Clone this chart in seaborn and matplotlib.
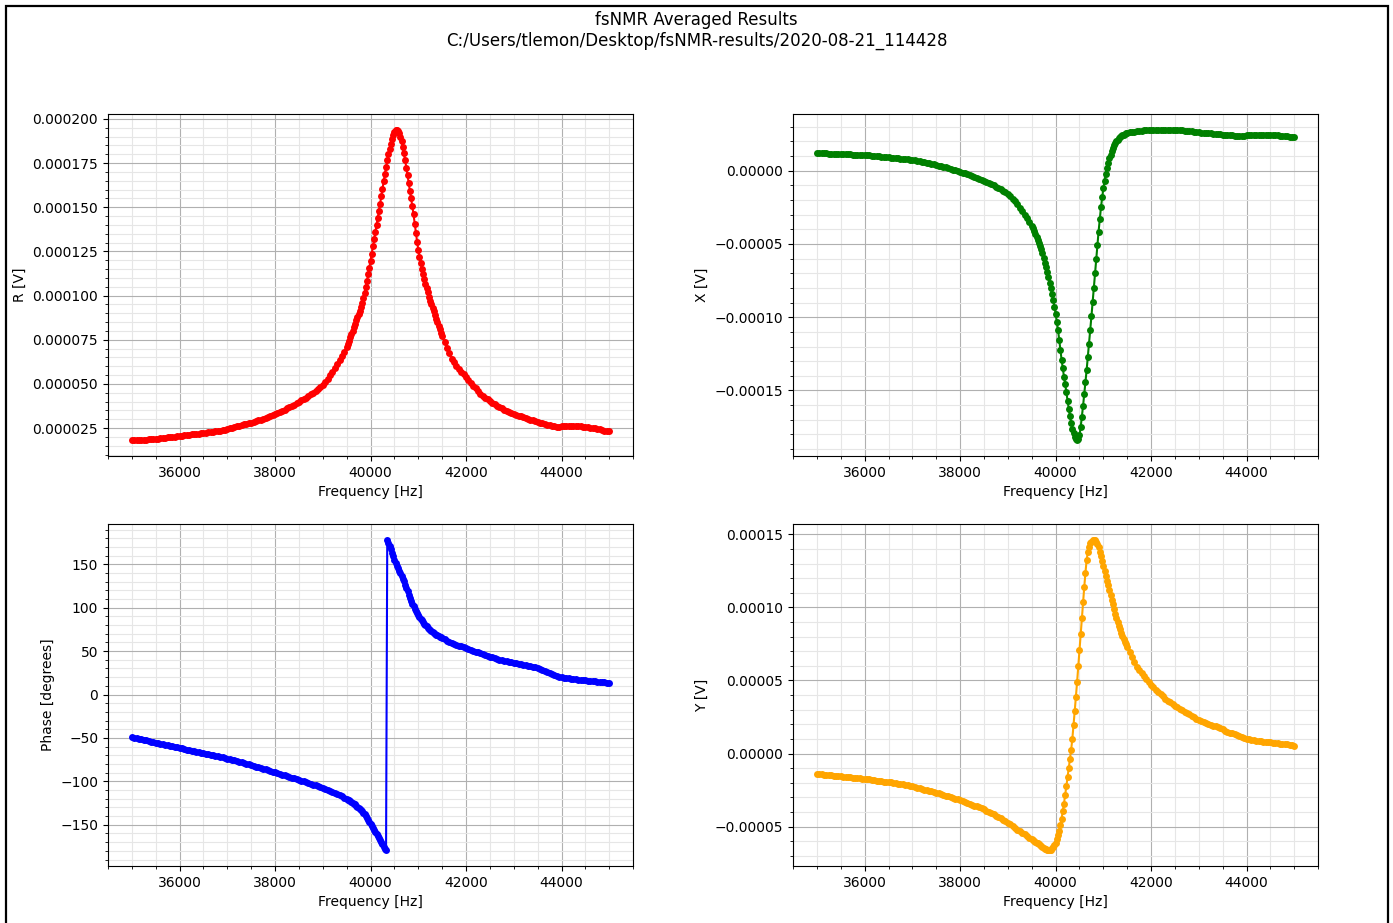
# fsNMR averaged results - R, X, phase and Y against frequency
import numpy as np
import matplotlib
matplotlib.use('Agg')
import matplotlib.pyplot as plt
import seaborn as sns
from matplotlib.patches import Rectangle

titel = 'fsNMR Averaged Results\nC:/Users/tlemon/Desktop/fsNMR-results/2020-08-21_114428'

# sweep frequencies [Hz]: 50 Hz steps, 25 Hz steps between 39500 and 41500
freq = [35000, 35050, 35100, 35150, 35200, 35250, 35300, 35350, 35400, 35450,
        35500, 35550, 35600, 35650, 35700, 35750, 35800, 35850, 35900, 35950,
        36000, 36050, 36100, 36150, 36200, 36250, 36300, 36350, 36400, 36450,
        36500, 36550, 36600, 36650, 36700, 36750, 36800, 36850, 36900, 36950,
        37000, 37050, 37100, 37150, 37200, 37250, 37300, 37350, 37400, 37450,
        37500, 37550, 37600, 37650, 37700, 37750, 37800, 37850, 37900, 37950,
        38000, 38050, 38100, 38150, 38200, 38250, 38300, 38350, 38400, 38450,
        38500, 38550, 38600, 38650, 38700, 38750, 38800, 38850, 38900, 38950,
        39000, 39050, 39100, 39150, 39200, 39250, 39300, 39350, 39400, 39450,
        39500, 39525, 39550, 39575, 39600, 39625, 39650, 39675, 39700, 39725,
        39750, 39775, 39800, 39825, 39850, 39875, 39900, 39925, 39950, 39975,
        40000, 40025, 40050, 40075, 40100, 40125, 40150, 40175, 40200, 40225,
        40250, 40275, 40300, 40325, 40350, 40375, 40400, 40425, 40450, 40475,
        40500, 40525, 40550, 40575, 40600, 40625, 40650, 40675, 40700, 40725,
        40750, 40775, 40800, 40825, 40850, 40875, 40900, 40925, 40950, 40975,
        41000, 41025, 41050, 41075, 41100, 41125, 41150, 41175, 41200, 41225,
        41250, 41275, 41300, 41325, 41350, 41375, 41400, 41425, 41450, 41475,
        41500, 41550, 41600, 41650, 41700, 41750, 41800, 41850, 41900, 41950,
        42000, 42050, 42100, 42150, 42200, 42250, 42300, 42350, 42400, 42450,
        42500, 42550, 42600, 42650, 42700, 42750, 42800, 42850, 42900, 42950,
        43000, 43050, 43100, 43150, 43200, 43250, 43300, 43350, 43400, 43450,
        43500, 43550, 43600, 43650, 43700, 43750, 43800, 43850, 43900, 43950,
        44000, 44050, 44100, 44150, 44200, 44250, 44300, 44350, 44400, 44450,
        44500, 44550, 44600, 44650, 44700, 44750, 44800, 44850, 44900, 44950,
        45000]

# amplitude R [uV]
r_uv = [18.0, 18.1, 18.2, 18.25, 18.3, 18.4, 18.5, 18.6, 18.7, 18.8,
        18.9, 19.05, 19.2, 19.35, 19.5, 19.7, 19.9, 20.05, 20.2, 20.4,
        20.6, 20.75, 20.9, 21.05, 21.2, 21.4, 21.6, 21.75, 21.9, 22.1,
        22.3, 22.45, 22.6, 22.8, 23.0, 23.2, 23.4, 23.6, 23.8, 24.1,
        24.4, 24.8, 25.2, 25.6, 26.0, 26.4, 26.8, 27.1, 27.4, 27.7,
        28.0, 28.45, 28.9, 29.35, 29.8, 30.3, 30.8, 31.35, 31.9, 32.5,
        33.1, 33.7, 34.3, 34.9, 35.5, 36.15, 36.8, 37.5, 38.2, 39.0,
        39.8, 40.6, 41.4, 42.25, 43.1, 44.05, 45.0, 46.0, 47.0, 48.1,
        49.2, 51.1, 53.0, 55.0, 57.0, 59.0, 61.0, 63.3, 65.6, 68.2,
        70.9, 72.7, 74.5, 76.3, 78.2, 80.1, 82.0, 83.9, 85.9, 87.7,
        89.5, 91.4, 93.4, 96.0, 98.8, 101.7, 104.7, 108.2, 112.0, 115.8,
        119.7, 123.7, 127.8, 131.8, 135.9, 139.9, 143.9, 147.9, 151.9, 156.1,
        160.4, 164.7, 168.9, 172.8, 176.5, 179.9, 183.0, 185.9, 188.5, 190.7,
        192.4, 193.5, 194.0, 193.4, 192.0, 190.0, 187.5, 184.2, 180.5, 176.6,
        172.5, 168.1, 163.5, 159.2, 155.0, 150.6, 146.0, 140.8, 135.5, 130.6,
        126.0, 122.1, 118.5, 115.1, 112.0, 109.2, 106.5, 104.1, 101.8, 99.4,
        97.0, 95.0, 93.0, 91.0, 89.0, 87.0, 85.0, 82.9, 80.8, 78.9,
        77.0, 73.7, 70.5, 67.3, 64.2, 62.2, 60.3, 58.6, 57.0, 55.4,
        53.9, 52.2, 50.5, 48.9, 47.4, 45.9, 44.5, 43.3, 42.2, 41.2,
        40.2, 39.3, 38.4, 37.6, 36.8, 36.1, 35.4, 34.8, 34.2, 33.65,
        33.1, 32.6, 32.1, 31.6, 31.1, 30.65, 30.2, 29.75, 29.3, 28.85,
        28.4, 28.05, 27.7, 27.3, 26.9, 26.5, 26.1, 25.9, 25.7, 25.8,
        25.9, 26.0, 26.1, 26.15, 26.2, 26.15, 26.1, 26.0, 25.9, 25.75,
        25.6, 25.4, 25.2, 25.0, 24.8, 24.5, 24.2, 23.9, 23.6, 23.35,
        23.1]

# in-phase X [uV]
x_uv = [12.0, 11.95, 11.9, 11.85, 11.8, 11.7, 11.6, 11.55, 11.5, 11.45,
        11.4, 11.3, 11.2, 11.15, 11.1, 11.05, 11.0, 10.95, 10.9, 10.8,
        10.7, 10.55, 10.4, 10.25, 10.1, 9.95, 9.8, 9.6, 9.4, 9.25,
        9.1, 8.95, 8.8, 8.6, 8.4, 8.25, 8.1, 7.9, 7.7, 7.5,
        7.3, 7.0, 6.7, 6.35, 6.0, 5.65, 5.3, 4.95, 4.6, 4.25,
        3.9, 3.5, 3.1, 2.65, 2.2, 1.7, 1.2, 0.75, 0.3, -0.2,
        -0.7, -1.25, -1.8, -2.35, -2.9, -3.5, -4.1, -4.75, -5.4, -6.1,
        -6.8, -7.55, -8.3, -9.15, -10.0, -10.9, -11.8, -12.8, -13.8, -14.85,
        -15.9, -17.5, -19.2, -21.0, -23.0, -25.2, -27.5, -29.9, -32.3, -34.9,
        -37.5, -39.4, -41.4, -43.5, -45.5, -47.4, -49.3, -51.3, -53.4, -56.4,
        -59.5, -62.7, -66.0, -69.4, -72.8, -76.4, -80.0, -83.9, -88.0, -92.7,
        -97.7, -103.0, -108.5, -115.5, -122.5, -129.0, -135.0, -140.5, -145.5, -151.3,
        -157.0, -162.5, -167.5, -172.0, -176.0, -179.0, -181.5, -183.2, -184.1, -183.0,
        -180.5, -175.0, -168.0, -160.5, -152.5, -144.3, -136.0, -127.0, -118.0, -108.8,
        -99.5, -89.8, -80.0, -70.0, -60.0, -50.5, -41.5, -33.0, -25.0, -18.2,
        -12.0, -6.8, -2.0, 2.0, 5.5, 8.4, 11.0, 13.4, 15.5, 17.4,
        19.0, 20.2, 21.2, 22.2, 23.0, 23.7, 24.2, 24.7, 25.1, 25.4,
        25.7, 26.1, 26.4, 26.7, 27.0, 27.2, 27.4, 27.55, 27.7, 27.85,
        28.0, 28.05, 28.1, 28.1, 28.1, 28.05, 28.0, 27.95, 27.9, 27.85,
        27.8, 27.7, 27.6, 27.45, 27.3, 27.15, 27.0, 26.8, 26.6, 26.4,
        26.2, 26.05, 25.9, 25.75, 25.6, 25.45, 25.3, 25.15, 25.0, 24.85,
        24.7, 24.55, 24.4, 24.25, 24.1, 23.95, 23.8, 23.7, 23.7, 23.95,
        24.2, 24.3, 24.4, 24.45, 24.5, 24.5, 24.5, 24.5, 24.5, 24.45,
        24.4, 24.3, 24.2, 24.1, 24.0, 23.8, 23.6, 23.4, 23.2, 22.95,
        22.7]

# phase [degrees]
phase_deg = [-49.2, -49.8, -50.4, -51.0, -51.6, -52.25, -52.9, -53.5, -54.1, -54.7,
             -55.3, -55.9, -56.5, -57.15, -57.8, -58.4, -59.0, -59.65, -60.3, -60.9,
             -61.5, -62.1, -62.7, -63.3, -63.9, -64.55, -65.2, -65.8, -66.4, -67.0,
             -67.6, -68.2, -68.8, -69.4, -70.0, -70.6, -71.2, -71.85, -72.5, -73.1,
             -73.7, -74.45, -75.2, -75.95, -76.7, -77.45, -78.2, -79.0, -79.8, -80.55,
             -81.3, -82.1, -82.9, -83.75, -84.6, -85.45, -86.3, -87.15, -88.0, -88.85,
             -89.7, -90.55, -91.4, -92.25, -93.1, -93.9, -94.7, -95.55, -96.4, -97.25,
             -98.1, -99.0, -99.9, -100.8, -101.7, -102.65, -103.6, -104.55, -105.5, -106.55,
             -107.6, -108.7, -109.8, -111.0, -112.2, -113.45, -114.7, -116.05, -117.4, -118.8,
             -120.2, -121.0, -121.8, -122.6, -123.5, -124.5, -125.5, -126.6, -127.8, -129.0,
             -130.2, -131.5, -133.0, -134.6, -136.3, -138.1, -140.0, -142.0, -144.2, -146.5,
             -148.9, -151.2, -153.5, -156.0, -158.4, -160.7, -163.0, -165.4, -167.8, -170.1,
             -172.5, -175.0, -177.5, -179.5, 178.5, 175.0, 171.5, 167.5, 163.5, 159.2,
             155.0, 151.7, 148.5, 145.5, 142.5, 139.5, 136.5, 133.5, 130.3, 126.5,
             122.5, 118.7, 115.0, 111.5, 108.0, 104.7, 101.5, 98.7, 96.0, 93.7,
             91.5, 89.5, 87.5, 85.5, 83.5, 81.7, 80.0, 78.5, 77.0, 75.5,
             74.0, 73.0, 72.0, 71.0, 70.0, 69.0, 68.0, 67.2, 66.5, 65.7,
             65.0, 63.5, 62.0, 60.6, 59.3, 58.3, 57.3, 56.35, 55.4, 54.5,
             53.6, 52.55, 51.5, 50.45, 49.4, 48.45, 47.5, 46.55, 45.6, 44.7,
             43.8, 42.9, 42.0, 41.15, 40.3, 39.55, 38.8, 38.2, 37.6, 37.0,
             36.4, 35.85, 35.3, 34.75, 34.2, 33.65, 33.1, 32.5, 31.9, 31.25,
             30.6, 29.6, 28.5, 27.25, 26.0, 24.8, 23.6, 22.5, 21.5, 20.7,
             19.9, 19.5, 19.1, 18.7, 18.3, 17.95, 17.6, 17.3, 17.0, 16.7,
             16.4, 16.15, 15.9, 15.6, 15.3, 14.95, 14.6, 14.3, 14.0, 13.7,
             13.4]

# quadrature Y [uV]
y_uv = [-13.9, -14.05, -14.2, -14.35, -14.5, -14.7, -14.9, -15.05, -15.2, -15.35,
        -15.5, -15.7, -15.9, -16.05, -16.2, -16.4, -16.6, -16.75, -16.9, -17.1,
        -17.3, -17.5, -17.7, -17.95, -18.2, -18.4, -18.6, -18.85, -19.1, -19.3,
        -19.5, -19.75, -20.0, -20.3, -20.6, -20.85, -21.1, -21.4, -21.7, -22.0,
        -22.3, -22.75, -23.2, -23.65, -24.1, -24.55, -25.0, -25.45, -25.9, -26.35,
        -26.8, -27.25, -27.7, -28.2, -28.7, -29.2, -29.7, -30.2, -30.7, -31.25,
        -31.8, -32.4, -33.0, -33.6, -34.2, -34.85, -35.5, -36.15, -36.8, -37.5,
        -38.2, -39.0, -39.8, -40.65, -41.5, -42.4, -43.3, -44.25, -45.2, -46.25,
        -47.3, -48.45, -49.6, -50.75, -51.9, -53.05, -54.2, -55.3, -56.4, -57.5,
        -58.6, -59.15, -59.7, -60.3, -60.9, -61.45, -62.0, -62.7, -63.3, -63.9,
        -64.5, -65.0, -65.5, -65.9, -66.2, -66.1, -65.6, -64.8, -63.8, -62.5,
        -60.9, -58.7, -56.0, -52.8, -49.0, -44.5, -39.5, -34.2, -28.5, -22.3,
        -16.0, -10.0, -4.0, 2.5, 10.0, 19.3, 29.0, 39.0, 49.0, 60.0,
        71.0, 82.0, 93.0, 103.8, 114.0, 123.8, 132.5, 137.8, 141.5, 143.7,
        145.0, 146.0, 146.4, 146.0, 145.0, 143.3, 141.0, 138.2, 135.0, 131.6,
        128.0, 124.7, 121.5, 118.2, 115.0, 111.7, 108.5, 105.2, 102.0, 98.7,
        95.5, 92.7, 90.0, 87.5, 85.0, 82.7, 80.5, 78.5, 76.5, 74.7,
        73.0, 69.5, 66.0, 62.7, 59.5, 57.2, 55.0, 53.0, 51.0, 49.0,
        47.0, 45.3, 43.7, 42.1, 40.6, 39.1, 37.6, 36.3, 35.0, 33.85,
        32.7, 31.65, 30.6, 29.6, 28.6, 27.75, 26.9, 25.9, 24.9, 23.95,
        23.0, 22.35, 21.7, 21.05, 20.4, 19.8, 19.2, 18.55, 17.9, 17.2,
        16.5, 15.75, 15.0, 14.4, 13.8, 13.15, 12.5, 11.8, 11.1, 10.55,
        10.0, 9.7, 9.4, 9.15, 8.9, 8.65, 8.4, 8.2, 8.0, 7.8,
        7.6, 7.45, 7.3, 7.1, 6.9, 6.7, 6.5, 6.25, 6.0, 5.75,
        5.5]


def panel(ax, werte, farbe, ylabel):
    sns.lineplot(x=freq, y=werte, ax=ax, color=farbe, marker='o', markersize=5,
                 markeredgewidth=0, linewidth=1.5)
    ax.set_xlabel('Frequency [Hz]')
    ax.set_ylabel(ylabel)
    ax.minorticks_on()
    ax.grid(True, which='major', color='#b0b0b0', linewidth=0.8)
    ax.grid(True, which='minor', color='#e6e6e6', linewidth=0.8)
    ax.set_axisbelow(True)


fig = plt.figure(figsize=(13.93, 9.23), dpi=100)
ax_r = fig.add_axes([0.0775, 0.506, 0.377, 0.3705])
ax_x = fig.add_axes([0.5693, 0.506, 0.377, 0.3705])
ax_p = fig.add_axes([0.0775, 0.0618, 0.377, 0.3705])
ax_y = fig.add_axes([0.5693, 0.0618, 0.377, 0.3705])

panel(ax_r, np.array(r_uv) * 1e-6, 'red', 'R [V]')
panel(ax_x, np.array(x_uv) * 1e-6, 'green', 'X [V]')
panel(ax_p, phase_deg, 'blue', 'Phase [degrees]')
panel(ax_y, np.array(y_uv) * 1e-6, 'orange', 'Y [V]')

fig.suptitle(titel, fontsize=12, y=0.988)

# Rahmen um die Abbildung (unten abgeschnitten)
fig.add_artist(Rectangle((6 / 1393, -0.05), 1382 / 1393, 1.05 - 6 / 923,
                         transform=fig.transFigure, fill=False,
                         edgecolor='black', linewidth=1.6, clip_on=False))

fig.savefig('out.png', dpi=100)
